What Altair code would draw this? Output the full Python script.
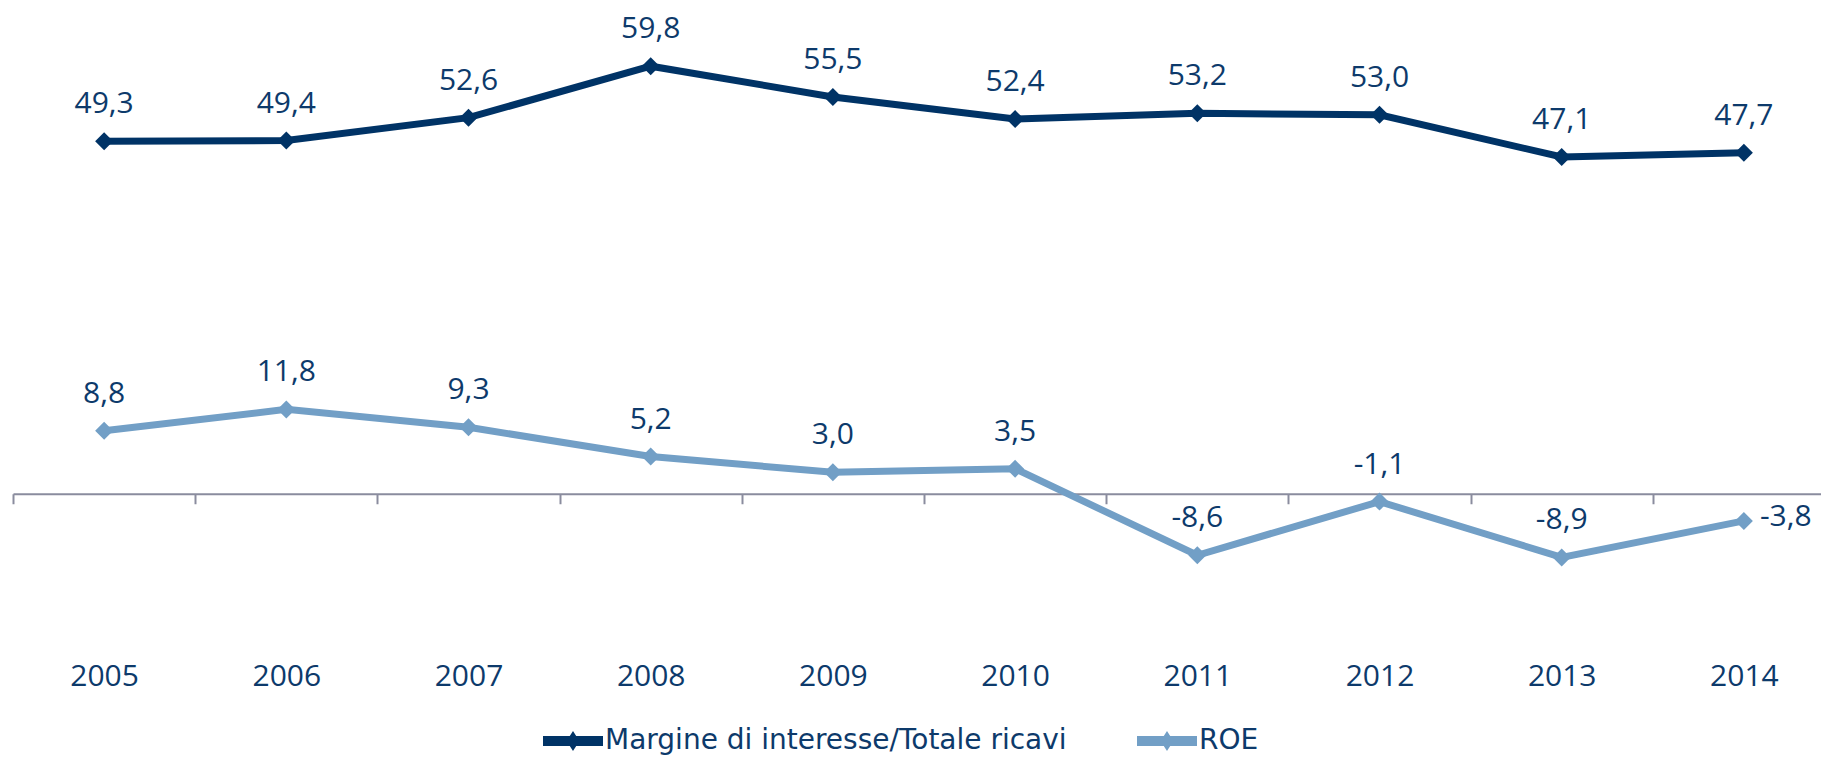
import altair as alt
import pandas as pd

years = ["2005", "2006", "2007", "2008", "2009", "2010", "2011", "2012", "2013", "2014"]
margine = [49.3, 49.4, 52.6, 59.8, 55.5, 52.4, 53.2, 53.0, 47.1, 47.7]
roe = [8.8, 11.8, 9.3, 5.2, 3.0, 3.5, -8.6, -1.1, -8.9, -3.8]
series_names = ["Margine di interesse/Totale ricavi", "ROE"]
series_colors = ["#003366", "#729fc6"]
roe_label_side = ["above"] * 9 + ["right"]

rows = []
for name, vals, sides in zip(series_names, [margine, roe], [["above"] * 10, roe_label_side]):
    for yr, v, s in zip(years, vals, sides):
        rows.append({"year": yr, "serie": name, "value": v,
                     "label": f"{v:.1f}".replace(".", ","), "side": s})
df = pd.DataFrame(rows)

FONT = "Open Sans"
LEGEND_FONT = "DejaVu Sans"
TEXT = "#0d3a6b"
AXIS = "#8a8c9e"

x = alt.X("year:N", sort=years,
          scale=alt.Scale(type="band", paddingInner=0, paddingOuter=0),
          axis=alt.Axis(title=None, offset=-143, tickBand="extent", domainColor=AXIS,
                        domainWidth=2, tickColor=AXIS, tickWidth=2, tickSize=10,
                        labelFont=FONT, labelFontSize=30, labelColor=TEXT,
                        labelPadding=158, labelAngle=0, grid=False))
y = alt.Y("value:Q", scale=alt.Scale(domain=[-20, 65], nice=False, zero=False), axis=None)

base = alt.Chart(df)

line_m = base.transform_filter(alt.datum.serie == series_names[0]).mark_line(
    color=series_colors[0], strokeWidth=7).encode(x=x, y=y)
line_r = base.transform_filter(alt.datum.serie == series_names[1]).mark_line(
    color=series_colors[1], strokeWidth=7).encode(x=x, y=y)

legend_path = ("M-1,-0.17L-0.107,-0.17L0,-0.33L0.107,-0.17L1,-0.17L1,0.17"
               "L0.107,0.17L0,0.33L-0.107,0.17L-1,0.17Z")

points = base.mark_point(filled=True, shape="diamond", size=324, opacity=1).encode(
    x=x, y=y,
    color=alt.Color("serie:N", sort=series_names,
                    scale=alt.Scale(domain=series_names, range=series_colors),
                    legend=alt.Legend(title=None, orient="none", legendX=530, legendY=682,
                                      direction="horizontal", symbolType=legend_path,
                                      symbolSize=3600, symbolStrokeWidth=0,
                                      labelFont=LEGEND_FONT, labelFontSize=28, labelColor=TEXT,
                                      labelOffset=2, columnPadding=70, padding=0,
                                      labelLimit=1000)))

text_above = base.transform_filter(alt.datum.side == "above").mark_text(
    baseline="alphabetic", dy=-28, font=FONT, fontSize=30, color=TEXT).encode(
    x=x, y=y, text="label:N")
text_right = base.transform_filter(alt.datum.side == "right").mark_text(
    align="left", baseline="middle", dx=16, dy=-4, font=FONT, fontSize=30, color=TEXT).encode(
    x=x, y=y, text="label:N")

chart = alt.layer(line_m, line_r, points, text_above, text_right).properties(
    width=1822, height=607.75,
    autosize=alt.AutoSizeParams(type="none"),
    padding={"left": 5, "top": 21, "right": -14, "bottom": 118},
    background="white",
).configure_view(stroke=None)

chart.save("out.html", embed_options={"renderer": "svg", "actions": False})
